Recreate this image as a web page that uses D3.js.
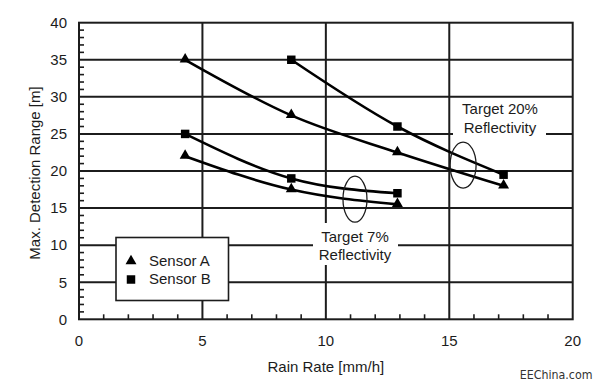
<!DOCTYPE html>
<html><head><meta charset="utf-8">
<script src="https://cdn.jsdelivr.net/npm/d3@7"></script>
<style>body{margin:0;background:#fff}svg{display:block;font-family:"Liberation Sans",Arial,sans-serif}</style>
</head><body><svg id="c" width="600" height="389"></svg>
<script>
const rainRate = [4.3, 8.6, 12.9, 17.2];
const sensorA20 = [35, 27.5, 22.5, 18];
const sensorB20 = [null, 35, 26, 19.5];
const sensorA7 = [22, 17.5, 15.5, null];
const sensorB7 = [25, 19, 17, null];
const xTicks = [0, 5, 10, 15, 20];
const yTicks = [0, 5, 10, 15, 20, 25, 30, 35, 40];
const xTitle = "Rain Rate [mm/h]";
const yTitle = "Max. Detection Range [m]";
const legendLabels = ["Sensor A", "Sensor B"];
const note20 = ["Target 20%", "Reflectivity"];
const note7 = ["Target 7%", "Reflectivity"];

const svg = d3.select("#c");
const x = d3.scaleLinear().domain([0, 20]).range([79, 572.7]);
const y = d3.scaleLinear().domain([0, 40]).range([319.3, 22.7]);
const ink = "#1c1c1c";

// grid
const g = svg.append("g");
g.selectAll(".vx").data(xTicks.slice(1, -1)).join("line")
  .attr("x1", d => x(d)).attr("x2", d => x(d)).attr("y1", y(40)).attr("y2", y(0))
  .attr("stroke", ink).attr("stroke-width", 2);
g.selectAll(".hy").data(yTicks.slice(1, -1)).join("line")
  .attr("y1", d => y(d)).attr("y2", d => y(d)).attr("x1", x(0)).attr("x2", x(20))
  .attr("stroke", ink).attr("stroke-width", 2);

// minor ticks
const xMinor = d3.range(1, 20).filter(v => v % 5 !== 0);
const yMinor = d3.range(1, 40).filter(v => v % 5 !== 0);
g.selectAll(".mx").data(xMinor).join("line")
  .attr("x1", d => x(d)).attr("x2", d => x(d)).attr("y1", y(0)).attr("y2", y(0) - 5)
  .attr("stroke", ink).attr("stroke-width", 1.6);
g.selectAll(".my").data(yMinor).join("line")
  .attr("y1", d => y(d)).attr("y2", d => y(d)).attr("x1", x(0)).attr("x2", x(0) + 5)
  .attr("stroke", ink).attr("stroke-width", 1.6);

// white label boxes
function noteBox(cx, cyTop, w, h) {
  svg.append("rect").attr("x", cx - w / 2).attr("y", cyTop).attr("width", w).attr("height", h).attr("fill", "#fff");
}
noteBox(499.5, 100, 93, 40);
noteBox(355.5, 223, 85, 42);

// frame
svg.append("rect").attr("x", x(0)).attr("y", y(40)).attr("width", x(20) - x(0)).attr("height", y(0) - y(40))
  .attr("fill", "none").attr("stroke", ink).attr("stroke-width", 2);

// tick labels
svg.selectAll(".xl").data(xTicks).join("text")
  .attr("x", d => x(d)).attr("y", 346).attr("text-anchor", "middle")
  .attr("font-size", 15).attr("fill", ink).text(d => d);
svg.selectAll(".yl").data(yTicks).join("text")
  .attr("x", 67).attr("y", d => y(d) + 5.3).attr("text-anchor", "end")
  .attr("font-size", 15).attr("fill", ink).text(d => d);

// axis titles
svg.append("text").attr("x", x(10)).attr("y", 372).attr("text-anchor", "middle")
  .attr("font-size", 15).attr("fill", ink).text(xTitle);
svg.append("text").attr("transform", "translate(40," + 173 + ") rotate(-90)")
  .attr("text-anchor", "middle").attr("font-size", 15).attr("fill", ink).text(yTitle);

// series
const line = d3.line().defined(d => d[1] != null).x(d => x(d[0])).y(d => y(d[1])).curve(d3.curveMonotoneX);
const series = [
  { vals: sensorA20, shape: "tri" },
  { vals: sensorB20, shape: "sq" },
  { vals: sensorA7, shape: "tri" },
  { vals: sensorB7, shape: "sq" }
];
const triSym = d3.symbol().type(d3.symbolTriangle).size(52);
const sqSym = d3.symbol().type(d3.symbolSquare).size(72);
series.forEach(s => {
  const pts = rainRate.map((r, i) => [r, s.vals[i]]).filter(d => d[1] != null);
  svg.append("path").datum(pts).attr("d", line).attr("fill", "none")
    .attr("stroke", "#000").attr("stroke-width", 2.6);
  svg.selectAll(null).data(pts).join("path")
    .attr("transform", d => `translate(${x(d[0])},${y(d[1]) + (s.shape === "tri" ? -0.5 : 0)})`)
    .attr("d", s.shape === "tri" ? triSym : sqSym).attr("fill", "#000");
});

// ellipses
svg.append("ellipse").attr("cx", x(15.56)).attr("cy", y(20.8)).attr("rx", 13).attr("ry", 23)
  .attr("fill", "none").attr("stroke", ink).attr("stroke-width", 1.3);
svg.append("ellipse").attr("cx", x(11.18)).attr("cy", y(16.2)).attr("rx", 12).attr("ry", 23)
  .attr("fill", "none").attr("stroke", ink).attr("stroke-width", 1.3);

// notes
svg.append("text").attr("x", 500).attr("y", 114).attr("text-anchor", "middle").attr("font-size", 15).attr("fill", ink).text(note20[0]);
svg.append("text").attr("x", 500).attr("y", 133).attr("text-anchor", "middle").attr("font-size", 15).attr("fill", ink).text(note20[1]);
svg.append("text").attr("x", 355).attr("y", 241.5).attr("text-anchor", "middle").attr("font-size", 15).attr("fill", ink).text(note7[0]);
svg.append("text").attr("x", 355).attr("y", 260).attr("text-anchor", "middle").attr("font-size", 15).attr("fill", ink).text(note7[1]);

// legend
svg.append("rect").attr("x", 116).attr("y", 237.5).attr("width", 112.5).attr("height", 63)
  .attr("fill", "#fff").attr("stroke", ink).attr("stroke-width", 1.6);
svg.append("path").attr("transform", "translate(131,261)").attr("d", triSym).attr("fill", "#000");
svg.append("path").attr("transform", "translate(131,279.5)").attr("d", sqSym).attr("fill", "#000");
svg.append("text").attr("x", 149).attr("y", 265.5).attr("font-size", 15).attr("fill", ink).text(legendLabels[0]);
svg.append("text").attr("x", 149).attr("y", 284).attr("font-size", 15).attr("fill", ink).text(legendLabels[1]);

// watermark
svg.append("text").attr("x", 592.5).attr("y", 379).attr("font-size", 12.3).attr("text-anchor", "end")
  .attr("font-family", "'Liberation Sans Narrow','DejaVu Sans Condensed',sans-serif")
  .attr("fill", "#333").text("EEChina.com");
</script></body></html>
